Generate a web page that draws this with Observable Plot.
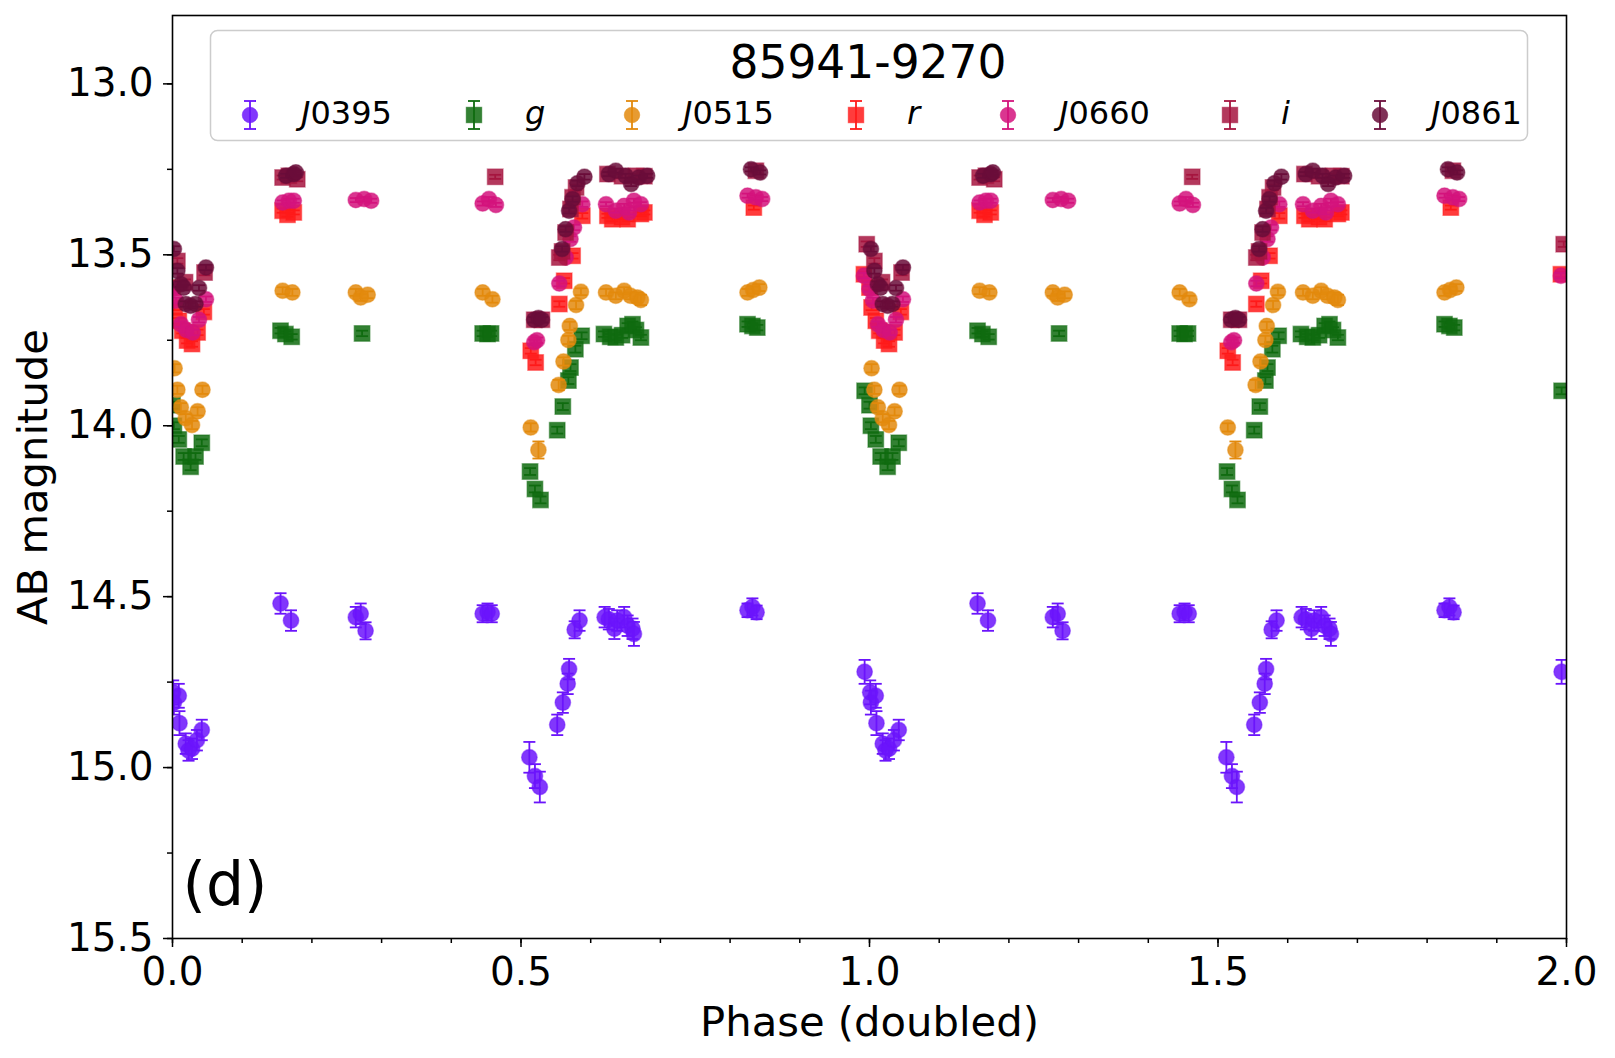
<!DOCTYPE html>
<html>
<head>
<meta charset="utf-8">
<script src="https://cdn.jsdelivr.net/npm/d3@7"></script>
<script src="https://cdn.jsdelivr.net/npm/@observablehq/plot@0.6"></script>
<style>
  html, body { margin: 0; padding: 0; background: #ffffff; }
  #chart { position: relative; width: 1615px; height: 1058px; font-family: "DejaVu Sans", sans-serif; }
  #chart svg { position: absolute; left: 0; top: 0; }
</style>
</head>
<body>
<div id="chart"></div>
<script>
// Folded light curve of 85941-9270, one cycle of phase; each point is [phase, AB mag, error]
const J0395 = [
  [0.001,14.78,0.035],[0.002,14.81,0.035],[0.009,14.79,0.035],[0.010,14.87,0.035],[0.019,14.93,0.03],
  [0.023,14.95,0.03],[0.028,14.945,0.03],[0.035,14.92,0.03],[0.042,14.89,0.03],
  [0.155,14.52,0.03],[0.170,14.57,0.03],
  [0.263,14.56,0.03],[0.270,14.55,0.03],[0.277,14.60,0.025],
  [0.445,14.55,0.025],[0.452,14.545,0.025],[0.458,14.55,0.025],
  [0.512,14.97,0.045],[0.520,15.025,0.035],[0.527,15.057,0.045],
  [0.552,14.875,0.03],[0.560,14.81,0.03],[0.567,14.755,0.03],[0.569,14.712,0.03],
  [0.577,14.597,0.025],[0.584,14.57,0.03],
  [0.620,14.56,0.03],[0.626,14.566,0.03],[0.634,14.594,0.03],[0.638,14.57,0.03],[0.648,14.56,0.03],
  [0.653,14.585,0.03],[0.660,14.594,0.03],[0.662,14.609,0.035],
  [0.825,14.54,0.02],[0.832,14.53,0.025],[0.838,14.546,0.02],
  [0.993,14.72,0.035]
];
const g = [
  [0.000,13.94,0.01],[0.002,14.00,0.01],[0.009,14.04,0.01],[0.016,14.09,0.01],[0.026,14.12,0.01],
  [0.033,14.09,0.01],[0.042,14.05,0.01],
  [0.155,13.722,0.008],[0.162,13.732,0.008],[0.171,13.740,0.008],
  [0.272,13.730,0.008],
  [0.445,13.730,0.008],[0.452,13.732,0.008],[0.457,13.730,0.008],
  [0.513,14.134,0.01],[0.520,14.185,0.01],[0.528,14.217,0.01],
  [0.552,14.013,0.01],[0.560,13.944,0.01],[0.568,13.868,0.01],[0.571,13.83,0.01],[0.578,13.776,0.01],[0.587,13.737,0.01],
  [0.619,13.732,0.008],[0.628,13.74,0.008],[0.636,13.742,0.008],[0.645,13.735,0.008],[0.653,13.708,0.008],
  [0.660,13.703,0.008],[0.665,13.72,0.008],[0.672,13.742,0.008],
  [0.825,13.703,0.008],[0.832,13.708,0.008],[0.839,13.713,0.008],
  [0.993,13.898,0.01]
];
const J0515 = [
  [0.003,13.832,0.012],[0.007,13.895,0.012],[0.012,13.946,0.012],[0.019,13.978,0.012],[0.028,13.998,0.012],
  [0.036,13.958,0.012],[0.043,13.895,0.012],
  [0.158,13.605,0.01],[0.172,13.61,0.01],
  [0.263,13.61,0.01],[0.270,13.625,0.01],[0.280,13.617,0.01],
  [0.445,13.61,0.01],[0.459,13.63,0.01],
  [0.514,14.005,0.012],[0.525,14.071,0.025],
  [0.554,13.881,0.015],[0.561,13.812,0.012],[0.568,13.749,0.012],[0.570,13.708,0.012],[0.579,13.647,0.012],[0.586,13.608,0.01],
  [0.622,13.61,0.01],[0.636,13.62,0.01],[0.648,13.605,0.01],[0.657,13.62,0.01],[0.667,13.625,0.015],[0.672,13.632,0.015],
  [0.825,13.61,0.01],[0.833,13.603,0.01],[0.842,13.596,0.01]
];
const r = [
  [0.000,13.596,0.008],[0.003,13.654,0.008],[0.009,13.693,0.008],[0.014,13.722,0.008],[0.021,13.751,0.008],
  [0.028,13.761,0.008],[0.036,13.727,0.008],[0.045,13.667,0.008],
  [0.158,13.371,0.006],[0.165,13.383,0.006],[0.174,13.376,0.006],
  [0.514,13.781,0.008],[0.521,13.815,0.008],
  [0.555,13.644,0.008],[0.562,13.576,0.008],[0.574,13.503,0.008],[0.588,13.386,0.008],
  [0.624,13.386,0.006],[0.631,13.396,0.006],[0.645,13.39,0.006],[0.653,13.396,0.006],[0.672,13.381,0.006],[0.677,13.376,0.006],
  [0.834,13.362,0.006],
  [0.992,13.557,0.008]
];
const J0660 = [
  [0.000,13.60,0.008],[0.005,13.634,0.008],[0.012,13.703,0.008],[0.020,13.72,0.008],[0.029,13.727,0.008],
  [0.038,13.69,0.008],[0.048,13.63,0.008],
  [0.158,13.347,0.006],[0.167,13.342,0.006],[0.174,13.342,0.006],
  [0.263,13.34,0.006],[0.275,13.337,0.006],[0.285,13.342,0.006],
  [0.445,13.35,0.006],[0.454,13.337,0.006],[0.464,13.354,0.006],
  [0.519,13.756,0.008],[0.523,13.75,0.008],
  [0.555,13.584,0.008],[0.564,13.508,0.008],[0.571,13.454,0.008],[0.576,13.42,0.008],[0.588,13.352,0.008],
  [0.622,13.352,0.006],[0.636,13.371,0.006],[0.648,13.357,0.006],[0.655,13.376,0.006],[0.662,13.342,0.006],[0.672,13.352,0.006],
  [0.825,13.327,0.006],[0.837,13.332,0.006],[0.846,13.337,0.006],
  [0.992,13.561,0.008]
];
const i = [
  [0.007,13.518,0.008],[0.018,13.58,0.008],[0.046,13.552,0.008],
  [0.158,13.274,0.006],[0.167,13.269,0.006],[0.179,13.279,0.006],
  [0.463,13.272,0.006],
  [0.519,13.69,0.008],[0.530,13.69,0.008],
  [0.555,13.508,0.008],[0.559,13.49,0.008],[0.564,13.435,0.008],[0.571,13.366,0.008],[0.574,13.332,0.008],[0.579,13.303,0.008],
  [0.624,13.264,0.006],[0.645,13.27,0.006],[0.665,13.269,0.006],[0.677,13.27,0.006],
  [0.837,13.254,0.006],
  [0.996,13.469,0.008]
];
const J0861 = [
  [0.002,13.483,0.008],[0.007,13.547,0.008],[0.012,13.586,0.008],[0.016,13.596,0.008],[0.019,13.644,0.008],
  [0.026,13.649,0.008],[0.033,13.644,0.008],[0.038,13.597,0.008],[0.048,13.537,0.008],
  [0.163,13.269,0.006],[0.174,13.264,0.006],[0.177,13.259,0.006],
  [0.519,13.69,0.008],[0.525,13.685,0.008],[0.530,13.69,0.008],
  [0.559,13.483,0.008],[0.564,13.425,0.008],[0.569,13.371,0.008],[0.574,13.337,0.008],[0.581,13.291,0.008],[0.591,13.272,0.008],
  [0.626,13.264,0.006],[0.636,13.254,0.006],[0.650,13.269,0.006],[0.658,13.293,0.006],[0.669,13.274,0.006],[0.681,13.269,0.006],
  [0.830,13.25,0.006],[0.843,13.259,0.006]
];

const bandNames = ["J0395", "g", "J0515", "r", "J0660", "i", "J0861"];
const bandData = [J0395, g, J0515, r, J0660, i, J0861];
const bandColors = ["#6b14fb", "#0f6b0f", "#e38a0d", "#ff1a1a", "#d3137c", "#a6153f", "#6a0d3a"];
const bandSymbols = ["circle", "square", "circle", "square", "circle", "square", "circle"];

const objectName = "85941-9270";
const panelTag = "(d)";
const xMajor = [0, 0.5, 1, 1.5, 2];
const xMinor = d3.range(0, 21).map(k => k / 10);
const yMajor = [13.0, 13.5, 14.0, 14.5, 15.0, 15.5];
const yMinor = d3.range(13.0, 15.51, 0.25);

// The phase axis shows two cycles: every point is drawn at phase and phase + 1
function doubled(points) {
  return [0, 1].flatMap(k => points.map(([p, m, e]) => ({phase: p + k, mag: m, err: e})));
}

// Horizontal cap used at both ends of an error bar
const capSymbol = {draw(ctx) { ctx.moveTo(-6, 0); ctx.lineTo(6, 0); }};

const bandMarks = bandNames.flatMap((name, k) => {
  const rows = doubled(bandData[k]);
  const color = bandColors[k];
  const isSquare = bandSymbols[k] === "square";
  return [
    Plot.ruleX(rows, {x: "phase", y1: d => d.mag - d.err, y2: d => d.mag + d.err, stroke: color, strokeWidth: 1.8, clip: true}),
    Plot.dot(rows, {x: "phase", y: d => d.mag - d.err, symbol: capSymbol, r: 1, stroke: color, strokeWidth: 1.8, clip: true}),
    Plot.dot(rows, {x: "phase", y: d => d.mag + d.err, symbol: capSymbol, r: 1, stroke: color, strokeWidth: 1.8, clip: true}),
    Plot.dot(rows, {
      x: "phase", y: "mag", symbol: bandSymbols[k], r: isSquare ? 8.8 : 7.8,
      fill: color, fillOpacity: 0.85, stroke: color, strokeOpacity: 0.45, strokeWidth: 1.4, clip: true
    })
  ];
});

const chart = Plot.plot({
  width: 1615,
  height: 1058,
  marginLeft: 172,
  marginRight: 49,
  marginTop: 15,
  marginBottom: 120,
  style: {fontFamily: "DejaVu Sans, sans-serif", color: "black", background: "white"},
  x: {domain: [0, 2], label: null},
  y: {domain: [12.8, 15.5], reverse: true, label: null},
  marks: [
    ...bandMarks,
    Plot.axisX({ticks: xMinor, tickSize: 5, tickFormat: () => "", strokeWidth: 1.5, label: null}),
    Plot.axisX({ticks: xMajor, tickSize: 9, tickPadding: 10, tickFormat: d3.format(".1f"), fontSize: 38.9, strokeWidth: 1.5, label: null}),
    Plot.axisY({ticks: yMinor, tickSize: 5, tickFormat: () => "", strokeWidth: 1.5, label: null}),
    Plot.axisY({ticks: yMajor, tickSize: 9, tickPadding: 10, tickFormat: d3.format(".1f"), fontSize: 38.9, strokeWidth: 1.5, label: null}),
    Plot.frame({stroke: "black", strokeWidth: 1.6}),
    Plot.text(["AB magnitude"], {frameAnchor: "left", textAnchor: "middle", lineAnchor: "middle", rotate: -90, dx: -139, fontSize: 41.7, fill: "black"}),
    Plot.text(["Phase (doubled)"], {frameAnchor: "bottom", lineAnchor: "bottom", dy: 97, fontSize: 41.7, fill: "black"}),
    Plot.text([panelTag], {frameAnchor: "bottom-left", textAnchor: "start", lineAnchor: "bottom", dx: 10, dy: -34, fontSize: 60, fill: "black"})
  ]
});

const host = document.getElementById("chart");
host.appendChild(chart);

// Legend box drawn over the top of the plot area
const legendX = [250, 474, 632, 856, 1008, 1230, 1380];
const legend = d3.create("svg")
  .attr("width", 1615).attr("height", 160)
  .style("font-family", "DejaVu Sans, sans-serif");
legend.append("rect")
  .attr("x", 210.5).attr("y", 30.5).attr("width", 1317).attr("height", 110).attr("rx", 7)
  .attr("fill", "white").attr("fill-opacity", 0.85)
  .attr("stroke", "#cccccc").attr("stroke-width", 1.5);
legend.append("text")
  .attr("x", 868).attr("y", 78).attr("text-anchor", "middle")
  .attr("font-size", 45.5).attr("fill", "black").text(objectName);

bandNames.forEach((name, k) => {
  const cx = legendX[k], cy = 115, color = bandColors[k];
  const gEntry = legend.append("g");
  gEntry.append("line").attr("x1", cx).attr("x2", cx).attr("y1", cy - 14).attr("y2", cy + 14)
    .attr("stroke", color).attr("stroke-width", 1.8);
  [cy - 14, cy + 14].forEach(yy => gEntry.append("line")
    .attr("x1", cx - 6).attr("x2", cx + 6).attr("y1", yy).attr("y2", yy)
    .attr("stroke", color).attr("stroke-width", 1.8));
  if (bandSymbols[k] === "square") {
    gEntry.append("rect").attr("x", cx - 7.8).attr("y", cy - 7.8).attr("width", 15.6).attr("height", 15.6)
      .attr("fill", color).attr("fill-opacity", 0.85).attr("stroke", color).attr("stroke-opacity", 0.45);
  } else {
    gEntry.append("circle").attr("cx", cx).attr("cy", cy).attr("r", 7.8)
      .attr("fill", color).attr("fill-opacity", 0.85).attr("stroke", color).attr("stroke-opacity", 0.45);
  }
  const label = gEntry.append("text").attr("x", cx + 51).attr("y", 124)
    .attr("font-size", 32).attr("fill", "black");
  if (name.startsWith("J")) {
    label.append("tspan").attr("font-style", "italic").text("J");
    label.append("tspan").text(name.slice(1));
  } else {
    label.append("tspan").attr("font-style", "italic").text(name);
  }
});

const legendNode = legend.node();
legendNode.style.position = "absolute";
legendNode.style.left = "0px";
legendNode.style.top = "0px";
legendNode.style.pointerEvents = "none";
host.appendChild(legendNode);
</script>
</body>
</html>
